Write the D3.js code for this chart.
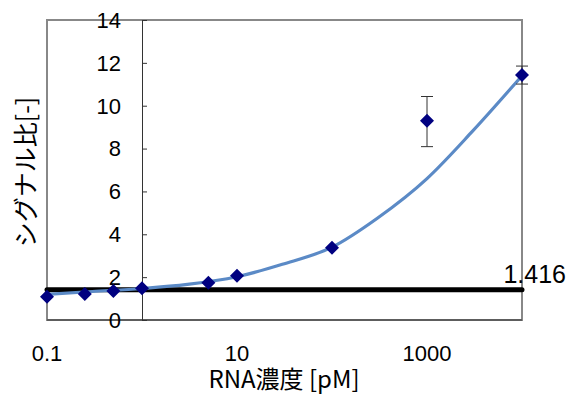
<!DOCTYPE html>
<html><head><meta charset="utf-8">
<script src="https://cdn.jsdelivr.net/npm/d3@7"></script>
<style>body{margin:0;background:#fff}svg{display:block}</style>
</head><body>
<svg id="c" width="568" height="394"></svg>
<script>
const concentrations = [0.1, 0.25, 0.5, 1, 5, 10, 100, 1000, 10000];
const signalRatio = [1.09, 1.21, 1.35, 1.48, 1.74, 2.07, 3.37, 9.30, 11.43];
const errLow = [null, null, null, null, null, null, null, 8.09, 11.01];
const errHigh = [null, null, null, null, null, null, null, 10.43, 11.85];
const trendX = [0.1, 0.3, 1, 3, 10, 30, 100, 300, 1000, 3000, 10000];
const trendY = [1.2, 1.33, 1.47, 1.66, 2.02, 2.6, 3.4, 4.75, 6.6, 8.8, 11.4];
const threshold = 1.416;
const xTickLabels = [0.1, 10, 1000];
const yTicks = [0, 2, 4, 6, 8, 10, 12, 14];

const svg = d3.select('#c');
const x = d3.scaleLog().domain([0.1, 10000]).range([47, 522]);
const y = d3.scaleLinear().domain([0, 14]).range([320, 20]);
const numFont = '"Liberation Sans", Arial, sans-serif';
const jpFont = '"Noto Sans CJK JP", sans-serif';

// plot border
svg.append('rect').attr('x', 47).attr('y', 20).attr('width', 475).attr('height', 300)
  .attr('fill', 'none').attr('stroke', '#888').attr('stroke-width', 2);

// x axis line at y=0
svg.append('line').attr('x1', 47).attr('x2', 522).attr('y1', y(0)).attr('y2', y(0))
  .attr('stroke', '#333').attr('stroke-width', 1);

// y axis at x=1
const yAxis = d3.axisRight(y).tickValues(yTicks).tickSize(5).tickFormat('');
const yg = svg.append('g').attr('transform', `translate(${x(1)},0)`).call(yAxis);
yg.select('.domain').attr('stroke', '#333');
yg.selectAll('.tick line').attr('stroke', '#333');

svg.append('g').selectAll('text').data(yTicks).join('text')
  .attr('x', 121).attr('y', d => y(d)).attr('dy', '0.36em')
  .attr('text-anchor', 'end').attr('font-family', numFont).attr('font-size', 22)
  .attr('fill', '#000').text(d => d);

svg.append('g').selectAll('text').data(xTickLabels).join('text')
  .attr('x', d => x(d)).attr('y', 361)
  .attr('text-anchor', 'middle').attr('font-family', numFont).attr('font-size', 22)
  .attr('fill', '#000').text(d => d);

// threshold line
svg.append('line').attr('x1', 47).attr('x2', 522).attr('y1', y(threshold)).attr('y2', y(threshold))
  .attr('stroke', '#000').attr('stroke-width', 5).attr('stroke-linecap', 'round');
svg.append('text').attr('x', 566).attr('y', 283).attr('text-anchor', 'end')
  .attr('font-family', numFont).attr('font-size', 25).attr('fill', '#000').text(threshold);

// trend curve
const trend = trendX.map((v, i) => [v, trendY[i]]);
svg.append('path').datum(trend)
  .attr('d', d3.line().x(d => x(d[0])).y(d => y(d[1])).curve(d3.curveMonotoneX))
  .attr('fill', 'none').attr('stroke', '#5b8ac6').attr('stroke-width', 3.2);

// error bars
const errs = concentrations.map((c, i) => ({c, lo: errLow[i], hi: errHigh[i]})).filter(d => d.lo != null);
const eg = svg.append('g').attr('stroke', '#333').attr('stroke-width', 1);
errs.forEach(d => {
  eg.append('line').attr('x1', x(d.c)).attr('x2', x(d.c)).attr('y1', y(d.lo)).attr('y2', y(d.hi));
  eg.append('line').attr('x1', x(d.c) - 6).attr('x2', x(d.c) + 6).attr('y1', y(d.lo)).attr('y2', y(d.lo));
  eg.append('line').attr('x1', x(d.c) - 6).attr('x2', x(d.c) + 6).attr('y1', y(d.hi)).attr('y2', y(d.hi));
});

// markers
svg.append('g').selectAll('path').data(concentrations).join('path')
  .attr('transform', (d, i) => `translate(${x(d)},${y(signalRatio[i])})`)
  .attr('d', 'M0,-7L7,0L0,7L-7,0Z').attr('fill', '#000080');

// axis titles
svg.append('text').attr('x', 284).attr('y', 388).attr('text-anchor', 'middle')
  .attr('font-family', jpFont).attr('font-size', 24).attr('fill', '#000').text('RNA濃度 [pM]');
svg.append('text').attr('transform', 'translate(35,172) rotate(-90)').attr('text-anchor', 'middle')
  .attr('font-family', jpFont).attr('font-size', 25).attr('fill', '#000').text('シグナル比[-]');
</script>
</body></html>
